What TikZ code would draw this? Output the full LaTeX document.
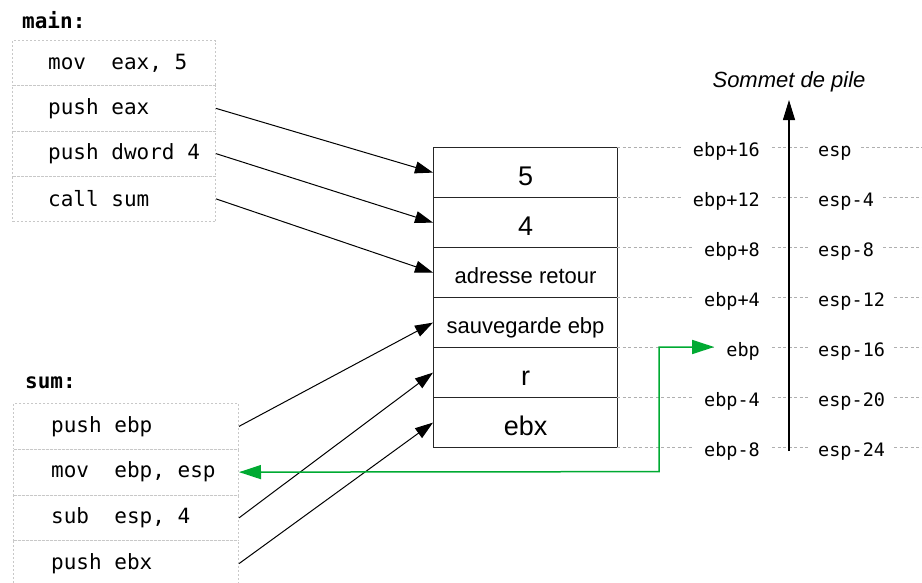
\documentclass[tikz,border=0pt]{standalone}
\usepackage{fontspec}
\setmainfont{Liberation Sans}
\setmonofont{DejaVu Sans Mono}
\usepackage{tikz}
\usetikzlibrary{arrows.meta,positioning}
\definecolor{boxgray}{RGB}{200,200,200}
\definecolor{guidegray}{RGB}{175,175,175}
\definecolor{ebpgreen}{RGB}{0,170,50}
\newcommand\codefont{\fontsize{21}{25}\selectfont\ttfamily}
\newcommand\regfont{\fontsize{18.5}{22}\selectfont\ttfamily}
\newcommand\bigcell{\fontsize{27}{30}\selectfont}
\newcommand\smallcell{\fontsize{22}{26}\selectfont}

\begin{document}
\begin{tikzpicture}[x=1pt,y=-1pt,
    every node/.style={inner sep=0pt},
    mainrow/.style={draw=boxgray,line width=1pt,dash pattern=on 2pt off 2pt,
        minimum width=203pt,minimum height=45.25pt,anchor=north west},
    sumrow/.style={mainrow,minimum width=225pt,minimum height=45.75pt},
    codetext/.style={font=\codefont,anchor=west},
    cell/.style={draw=black!85,line width=1.2pt,minimum width=184pt,
        minimum height=50pt,anchor=north west,text depth=0pt},
    reg/.style={font=\regfont},
    guide/.style={draw=guidegray,line width=1pt,dash pattern=on 3pt off 2.5pt},
    ptr/.style={line width=1pt,-{Triangle[length=18pt,width=12pt]}}]
\useasboundingbox (0,0) rectangle (922,582);

% main
\node[font=\codefont\bfseries,anchor=west] (mainlbl) at (22,20) {main:};
\foreach \t [count=\i] in {{mov\ \ eax, 5},{push eax},{push dword 4},{call sum}}{
  \node[mainrow] (main\i) at (12,{40+45.25*(\i-1)}) {};
  \node[codetext,right=36pt of main\i.west] (maintxt\i) {\t};
}

% sum
\node[font=\codefont\bfseries,anchor=west] (sumlbl) at (25,383) {sum:};
\foreach \t [count=\i] in {{push ebp},{mov\ \ ebp, esp},{sub\ \ esp, 4},{push ebx}}{
  \node[sumrow] (sum\i) at (13,{403+45.75*(\i-1)}) {};
  \node[codetext,right=38pt of sum\i.west] (sumtxt\i) {\t};
}

% pile
\foreach \t/\f/\h [count=\i] in {5/\bigcell/25pt,4/\bigcell/25pt,
    adresse retour/\smallcell/21.5pt,sauvegarde ebp/\smallcell/21.5pt,
    r/\bigcell/25pt,ebx/\bigcell/25pt}{
  \node[cell,font=\f,text height=\h] (cell\i) at (433,{147+50*(\i-1)}) {\t};
}

% registres
\foreach \b/\s [count=\i from 0] in {ebp+16/esp,ebp+12/esp-4,ebp+8/esp-8,
    ebp+4/esp-12,ebp/esp-16,ebp-4/esp-20,ebp-8/esp-24}{
  \coordinate (row\i) at (617,{147+50*\i});
  \coordinate (end\i) at (922,{147+50*\i});
  \node[reg,inner xsep=12pt,anchor=base east] (b\i) at (772,{156.5+50*\i}) {\b};
  \node[reg,inner xsep=9pt,anchor=base west] (e\i) at (809,{156.5+50*\i}) {\s};
  \draw[guide] (row\i) -- (b\i.west |- row\i);
  \draw[guide] (b\i.east |- row\i) -- (e\i.west |- row\i);
  \draw[guide] (e\i.east |- row\i) -- (end\i);
}

% sommet de pile
\node[font=\smallcell\itshape] (top) at (789,82) {Sommet de pile};
\coordinate (base) at (789,451);
\coordinate (apex) at (789,100);
\draw[line width=1.1pt,-{Triangle[length=20pt,width=12pt]}] (base) -- (apex);

% fleches
\draw[ptr] (main2.east) -- (cell1.west);
\draw[ptr] (main3.east) -- (cell2.west);
\draw[ptr] (main4.east) -- (cell3.west);
\draw[ptr] (sum1.east) -- (cell4.west);
\draw[ptr] (sum3.east) -- (cell5.west);
\draw[ptr] (sum4.east) -- (cell6.west);
\draw[ebpgreen,line width=1.5pt,{Triangle[length=22pt,width=14pt]}-{Triangle[length=22pt,width=14pt]}]
  (sum2.east) -- (659,{403+45.75*1.5}) |- (b4.west |- row4);
\end{tikzpicture}
\end{document}
